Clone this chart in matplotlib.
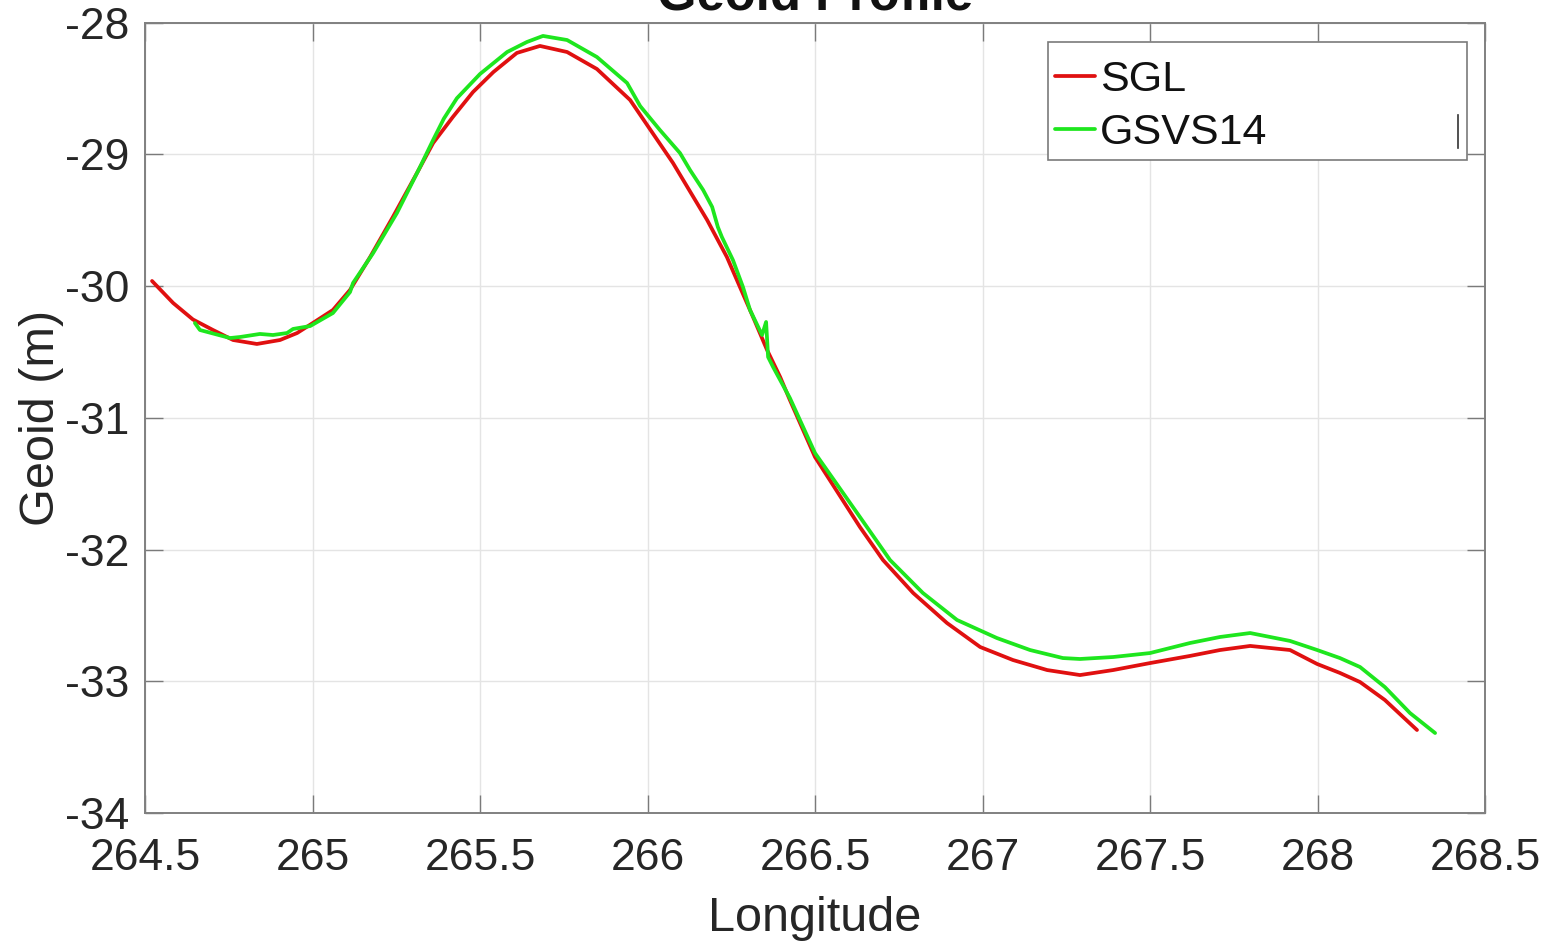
import matplotlib
matplotlib.use("Agg")
import matplotlib.pyplot as plt
from matplotlib.lines import Line2D
from matplotlib.patches import Rectangle

plt.rcParams['font.family'] = ['Liberation Sans', 'DejaVu Sans']

# SGL geoid profile (longitude in degrees east, geoid height in metres)
sgl_lon = [264.521, 264.584, 264.643, 264.703, 264.763, 264.834, 264.903, 264.954,
           265.001, 265.061, 265.112, 265.172, 265.240, 265.312, 265.360, 265.419,
           265.479, 265.540, 265.610, 265.679, 265.760, 265.849, 265.948, 266.076,
           266.178, 266.237, 266.276, 266.315, 266.357, 266.396, 266.425, 266.500,
           266.634, 266.703, 266.793, 266.894, 266.993, 267.091, 267.193, 267.291,
           267.390, 267.500, 267.619, 267.709, 267.799, 267.918, 267.999, 268.067,
           268.127, 268.201, 268.246, 268.297]
sgl_geoid = [-29.962, -30.129, -30.254, -30.334, -30.410, -30.440, -30.410, -30.357,
             -30.281, -30.182, -30.030, -29.780, -29.476, -29.142, -28.915, -28.717,
             -28.528, -28.376, -28.231, -28.178, -28.224, -28.353, -28.588, -29.066,
             -29.499, -29.780, -30.008, -30.235, -30.486, -30.691, -30.865, -31.298,
             -31.829, -32.080, -32.330, -32.558, -32.740, -32.839, -32.915, -32.953,
             -32.915, -32.862, -32.808, -32.763, -32.732, -32.763, -32.869, -32.937,
             -33.006, -33.142, -33.249, -33.370]

# GSVS14 geoid profile
gsvs_lon = [264.649, 264.664, 264.754, 264.784, 264.843, 264.882, 264.924, 264.942,
            264.993, 265.061, 265.112, 265.121, 265.181, 265.252, 265.321, 265.360,
            265.392, 265.431, 265.500, 265.581, 265.640, 265.688, 265.760, 265.849,
            265.939, 265.978, 266.037, 266.097, 266.127, 266.166, 266.193, 266.210,
            266.222, 266.255, 266.285, 266.306, 266.342, 266.354, 266.360, 266.375,
            266.425, 266.500, 266.634, 266.724, 266.822, 266.924, 267.043, 267.142,
            267.240, 267.291, 267.390, 267.500, 267.619, 267.709, 267.799, 267.918,
            267.999, 268.067, 268.127, 268.201, 268.276, 268.351]
gsvs_geoid = [-30.281, -30.334, -30.395, -30.387, -30.364, -30.372, -30.357, -30.326,
              -30.304, -30.205, -30.046, -29.977, -29.750, -29.446, -29.097, -28.892,
              -28.730, -28.575, -28.391, -28.224, -28.148, -28.102, -28.133, -28.262,
              -28.459, -28.634, -28.816, -28.991, -29.120, -29.271, -29.400, -29.552,
              -29.628, -29.803, -30.008, -30.182, -30.372, -30.273, -30.539, -30.615,
              -30.850, -31.268, -31.753, -32.080, -32.330, -32.535, -32.672, -32.763,
              -32.824, -32.831, -32.816, -32.786, -32.710, -32.664, -32.634, -32.694,
              -32.763, -32.824, -32.892, -33.044, -33.241, -33.393]

x_ticks = [264.5, 265, 265.5, 266, 266.5, 267, 267.5, 268, 268.5]
x_tick_labels = ['264.5', '265', '265.5', '266', '266.5', '267', '267.5', '268', '268.5']
y_ticks = [-34, -33, -32, -31, -30, -29, -28]
y_tick_labels = ['-34', '-33', '-32', '-31', '-30', '-29', '-28']

W, H = 1547, 942
AX_L, AX_R, AX_T, AX_B = 145, 1485, 22.5, 813
fig = plt.figure(figsize=(W / 100, H / 100), dpi=100)
ax = fig.add_axes([AX_L / W, 1 - AX_B / H, (AX_R - AX_L) / W, (AX_B - AX_T) / H])


def ax_frac(px, py):
    """Pixel position in the figure -> axes fraction."""
    return (px - AX_L) / (AX_R - AX_L), 1 - (py - AX_T) / (AX_B - AX_T)


ax.plot(sgl_lon, sgl_geoid, color='#e01010', lw=2.7, label='SGL',
        solid_capstyle='round', solid_joinstyle='round')
ax.plot(gsvs_lon, gsvs_geoid, color='#1ee61e', lw=2.7, label='GSVS14',
        solid_capstyle='round', solid_joinstyle='round')

ax.set_xlim(264.5, 268.5)
ax.set_ylim(-34, -28)
ax.set_xticks(x_ticks)
ax.set_xticklabels(x_tick_labels)
ax.set_yticks(y_ticks)
ax.set_yticklabels(y_tick_labels)

tick_color = '#262626'
ax.tick_params(axis='both', direction='in', length=13, width=1.0, color='#7a7a7a',
               labelsize=32, labelcolor=tick_color, top=True, right=True)
ax.tick_params(axis='x', pad=18)
ax.tick_params(axis='y', pad=11)
ax.grid(True, color='#e4e4e4', lw=1.0)
ax.set_axisbelow(True)
for sp in ax.spines.values():
    sp.set_color('#808080')
    sp.set_linewidth(1.4)

ax.set_xlabel('Longitude', fontsize=35, color=tick_color, labelpad=12)
ax.set_ylabel('Geoid (m)', fontsize=35, color=tick_color, labelpad=1)

fig.text(815 / W, 1 - 10 / H, 'Geoid Profile', ha='center', va='baseline',
         fontsize=36.5, fontweight='bold', color='#111111')

# legend box
x0, y0 = ax_frac(1048, 160)
x1, y1 = ax_frac(1467, 42)
ax.add_patch(Rectangle((x0, y0), x1 - x0, y1 - y0, transform=ax.transAxes,
                       facecolor='white', edgecolor='#7a7a7a', lw=1.2, zorder=4))
leg = ax.legend(loc='upper left', bbox_to_anchor=ax_frac(1055, 60),
                fontsize=31, handlelength=0.93, handletextpad=0.12,
                borderpad=0.0, labelspacing=0.3, borderaxespad=0.0,
                frameon=False)
leg.set_zorder(5)
for t in leg.get_texts():
    t.set_color('#111111')

# small vertical stroke at the legend's right edge
fig.add_artist(Line2D([1458 / W, 1458 / W], [1 - 115 / H, 1 - 148 / H],
                      color='#333333', lw=1.2, transform=fig.transFigure))

fig.savefig('out.png', dpi=100)
